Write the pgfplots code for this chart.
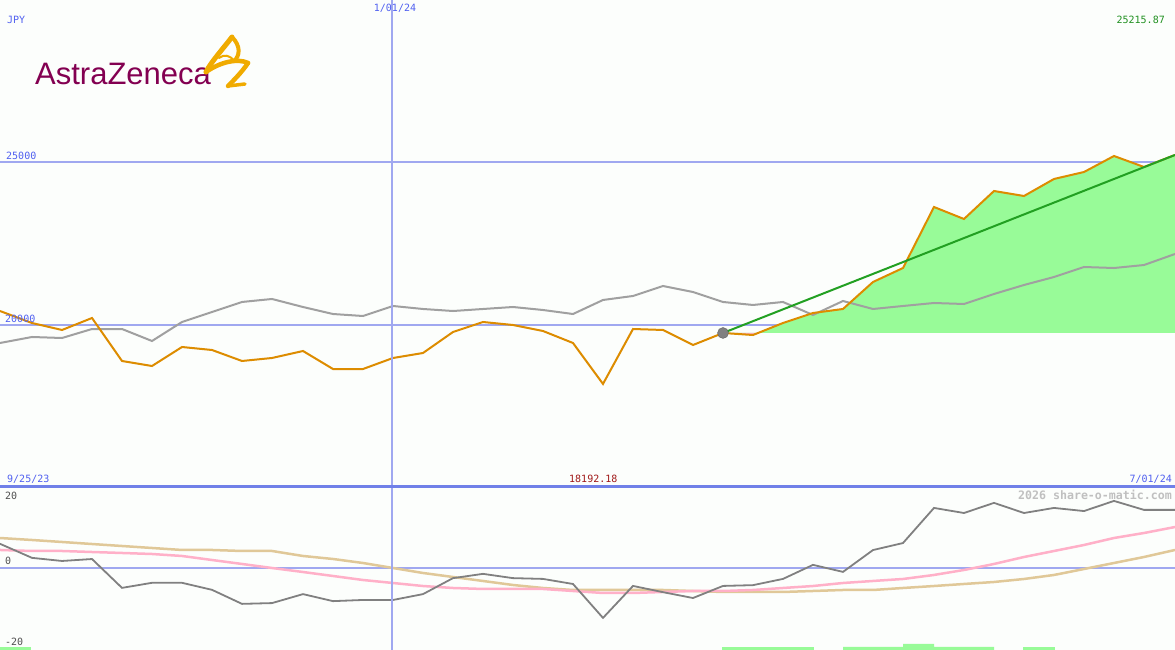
\documentclass[border=0pt]{standalone}
\usepackage{pgfplots}
\pgfplotsset{compat=1.18}
\usepackage{pgfplotstable}
\usepackage{fontspec}
\setmainfont{Liberation Sans}
\newfontfamily\mono{DejaVu Sans Mono}
\definecolor{bgcol}{RGB}{252,254,252}
\definecolor{gridblue}{RGB}{160,168,240}
\definecolor{sepblue}{RGB}{112,128,232}
\definecolor{labblue}{RGB}{80,96,240}
\definecolor{orangeline}{RGB}{221,140,0}
\definecolor{grayline}{RGB}{160,160,160}
\definecolor{trendgreen}{RGB}{34,160,34}
\definecolor{fillgreen}{RGB}{152,251,152}
\definecolor{momgray}{RGB}{128,128,128}
\definecolor{pinkline}{RGB}{255,176,200}
\definecolor{tanline}{RGB}{224,200,152}
\definecolor{labgreen}{RGB}{32,144,32}
\definecolor{darkred}{RGB}{160,24,24}
\definecolor{azpurple}{RGB}{131,0,81}
\definecolor{azgold}{RGB}{240,171,0}
\definecolor{wmgray}{RGB}{192,192,192}
\definecolor{labdark}{RGB}{80,80,80}

\pgfplotstableread{
x price gray
0 20429 19448
32 20061 19632
62 19847 19601
92 20215 19877
122 18896 19877
152 18742 19509
182 19325 20092
212 19233 20399
242 18896 20706
272 18988 20798
303 19202 20552
333 18650 20337
363 18650 20276
393 18988 20583
423 19141 20491
453 19785 20429
483 20092 20491
513 20000 20552
543 19816 20460
573 19448 20337
603 18192 20767
633 19877 20890
663 19847 21196
693 19387 21012
723 19755 20706
753 19693 20614
783 20061 20706
813 20368 20307
843 20491 20736
873 21319 20491
903 21748 20583
934 23620 20675
964 23252 20644
994 24110 20951
1024 23957 21227
1054 24479 21472
1084 24693 21779
1114 25184 21748
1144 24847 21840
1175 25216 22178
}\toptable

\pgfplotstableread{
x mom pink tan
0 6.2 4.62 7.69
32 2.6 4.36 7.18
62 1.8 4.36 6.67
92 2.3 4.10 6.15
122 -5.1 3.85 5.64
152 -3.8 3.59 5.13
182 -3.8 3.08 4.62
212 -5.6 2.05 4.62
242 -9.2 1.03 4.36
272 -9.0 0 4.36
303 -6.7 -1.03 3.08
333 -8.5 -2.05 2.31
363 -8.2 -3.08 1.28
393 -8.2 -3.85 0
423 -6.7 -4.62 -1.28
453 -2.6 -5.13 -2.31
483 -1.5 -5.38 -3.33
513 -2.6 -5.38 -4.36
543 -2.8 -5.38 -5.13
573 -4.1 -5.90 -5.64
603 -12.8 -6.41 -5.64
633 -4.6 -6.41 -5.64
663 -6.2 -6.15 -5.64
693 -7.7 -5.90 -5.90
723 -4.6 -5.90 -6.15
753 -4.4 -5.64 -6.15
783 -2.8 -5.13 -6.15
813 0.8 -4.62 -5.90
843 -1.0 -3.85 -5.64
873 4.6 -3.33 -5.64
903 6.4 -2.82 -5.13
934 15.4 -1.79 -4.62
964 14.1 -0.51 -4.10
994 16.7 1.03 -3.59
1024 14.1 2.82 -2.82
1054 15.4 4.36 -1.79
1084 14.6 5.90 -0.26
1114 17.2 7.69 1.28
1144 14.9 8.97 2.82
1175 14.9 10.51 4.62
}\bottable

\begin{document}
\begin{tikzpicture}
\fill[bgcol] (0,0) rectangle (1175bp,650bp);

% ---------- top panel ----------
\begin{axis}[at={(0,163bp)}, anchor=south west, scale only axis,
  width=1175bp, height=487bp, xmin=0, xmax=1175,
  ymin=15030.7, ymax=29969.4, hide axis, clip=true]
\draw[gridblue, line width=2bp] (axis cs:0,25000) -- (axis cs:1175,25000);
\draw[gridblue, line width=2bp] (axis cs:0,20000) -- (axis cs:1175,20000);
\addplot[fill=fillgreen, draw=none] coordinates {
 (723,19755) (753,19755) (758,19755) (783,20061) (813,20368) (843,20491) (873,21319)
 (903,21748) (934,23620) (964,23252) (994,24110) (1024,23957) (1054,24479)
 (1084,24693) (1114,25184) (1144,24847) (1175,25216) (1175,19755)} -- cycle;
\addplot[fill=pinkline, draw=none] coordinates {(723,19755) (753,19693) (758,19755)} -- cycle;
\addplot[grayline, line width=2bp] table[x=x, y=gray] {\toptable};
\addplot[orangeline, line width=2bp] table[x=x, y=price] {\toptable};
\addplot[trendgreen, line width=2bp] coordinates {(723,19755) (1175,25215.87)};
\addplot[only marks, mark=*, mark size=5.5bp, mark options={fill=momgray, draw=momgray!80!black}] coordinates {(723,19755)};
\end{axis}

% ---------- bottom panel ----------
\begin{axis}[at={(0,0)}, anchor=south west, scale only axis,
  width=1175bp, height=163bp, xmin=0, xmax=1175,
  ymin=-21.03, ymax=20.77, hide axis, clip=true]
\draw[gridblue, line width=2bp] (axis cs:0,0) -- (axis cs:1175,0);
\addplot[fill=fillgreen, draw=none] coordinates {(0,-21.03) (0,-20.26) (31,-20.26) (31,-21.03)} -- cycle;
\addplot[fill=fillgreen, draw=none] coordinates {(722,-21.03) (722,-20.26) (814,-20.26) (814,-21.03)} -- cycle;
\addplot[fill=fillgreen, draw=none] coordinates {(843,-21.03) (843,-20.26) (903,-20.26) (903,-19.49) (934,-19.49) (934,-20.26) (994,-20.26) (994,-21.03)} -- cycle;
\addplot[fill=fillgreen, draw=none] coordinates {(1023,-21.03) (1023,-20.26) (1055,-20.26) (1055,-21.03)} -- cycle;
\addplot[tanline, line width=2.5bp] table[x=x, y=tan] {\bottable};
\addplot[pinkline, line width=2.5bp] table[x=x, y=pink] {\bottable};
\addplot[momgray, line width=1.8bp] table[x=x, y=mom] {\bottable};
\end{axis}

% ---------- overlays in pixel coordinates ----------
\begin{scope}[x=1bp, y=-1bp, shift={(0,650bp)}]
\draw[gridblue, line width=1.5bp] (392,0) -- (392,650);
\draw[sepblue, line width=3bp] (0,487) -- (1175,487);
% logo
\node[anchor=base west, inner sep=0, text=azpurple, font=\fontsize{31bp}{31bp}\selectfont] at (35,85) {AstraZeneca};
\begin{scope}[azgold, line cap=round, line join=round]
\draw[line width=5bp] (232,37) .. controls (222,50) and (211,62) .. (206,72);
\draw[line width=4bp] (232,37) .. controls (241,46) and (240,56) .. (234,61);
\draw[line width=4.5bp] (206,72) .. controls (220,62) and (238,58) .. (248,63);
\draw[line width=4.5bp] (248,63) .. controls (242,72) and (234,80) .. (228,86);
\draw[line width=3.5bp] (228,86) -- (245,84);
\draw[line width=2bp] (219,58) .. controls (224,54) and (230,55) .. (234,61);
\end{scope}
% labels
\begin{scope}[font=\mono\fontsize{10bp}{12bp}\selectfont, inner sep=0]
\node[anchor=base west, text=labblue] at (7,24) {JPY};
\node[anchor=base, text=labblue] at (395,12) {1/01/24};
\node[anchor=base east, text=labgreen] at (1165,24) {25215.87};
\node[anchor=base west, text=labblue] at (6,160) {25000};
\node[anchor=base west, text=labblue] at (5,323) {20000};
\node[anchor=base west, text=labblue] at (7,483) {9/25/23};
\node[anchor=base west, text=darkred] at (569,483) {18192.18};
\node[anchor=base east, text=labblue] at (1172,483) {7/01/24};
\node[anchor=base west, text=labdark] at (5,500) {20};
\node[anchor=base west, text=labdark] at (5,565) {0};
\node[anchor=base west, text=labdark] at (5,646) {-20};
\end{scope}
\node[anchor=base east, inner sep=0, text=wmgray, font=\mono\bfseries\fontsize{11.6bp}{13bp}\selectfont] at (1172,500) {2026 share-o-matic.com};
\end{scope}
\pgfresetboundingbox
\path[use as bounding box] (0,0) rectangle (1175bp,650bp);
\end{tikzpicture}
\end{document}
